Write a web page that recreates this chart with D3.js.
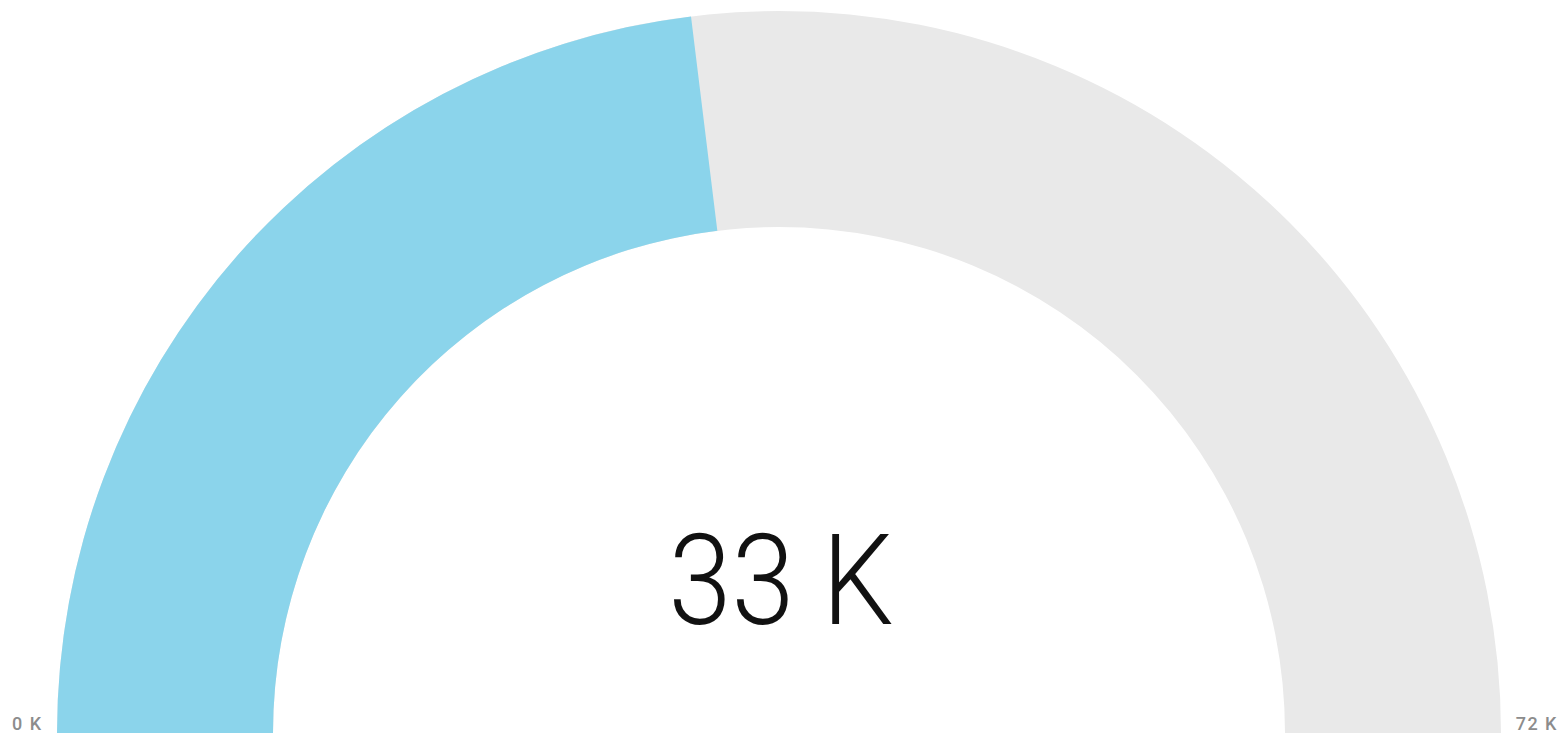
<!DOCTYPE html>
<html>
<head>
<meta charset="utf-8">
<script src="https://cdn.jsdelivr.net/npm/d3@7"></script>
<style>
html,body{margin:0;padding:0;background:#fff;overflow:hidden;}
svg{display:block;}
</style>
</head>
<body>
<svg id="chart" width="1560" height="734"></svg>
<script>
const minValue = 0;
const maxValue = 72;      // thousands
const currentValue = 33.2; // thousands
const valueLabel = "33 K";
const minLabel = "0 K";
const maxLabel = "72 K";

const svg = d3.select("#chart");
const cx = 779, cy = 733;
const outerR = 722, innerR = 506;

const angle = d3.scaleLinear().domain([minValue, maxValue]).range([-Math.PI/2, Math.PI/2]);
const arc = d3.arc().innerRadius(innerR).outerRadius(outerR);

const g = svg.append("g").attr("transform", `translate(${cx},${cy})`);
g.append("path")
  .attr("d", arc({startAngle: angle(minValue), endAngle: angle(maxValue)}))
  .attr("fill", "#e9e9e9");
g.append("path")
  .attr("d", arc({startAngle: angle(minValue), endAngle: angle(currentValue)}))
  .attr("fill", "#8bd4eb");

svg.append("g")
  .attr("transform", "translate(781,624) scale(0.9,1)")
  .append("text")
  .attr("x", 0).attr("y", 0)
  .attr("text-anchor", "middle")
  .attr("font-family", "Roboto, sans-serif")
  .attr("font-weight", 300)
  .attr("font-size", 126)
  .attr("fill", "#111")
  .text(valueLabel);

svg.append("text")
  .attr("x", 12).attr("y", 730)
  .attr("font-family", "Roboto, sans-serif")
  .attr("font-weight", 500)
  .attr("font-size", 18)
  .attr("letter-spacing", "1.5px")
  .attr("fill", "#8c8c8c")
  .text(minLabel);

svg.append("text")
  .attr("x", 1558).attr("y", 730)
  .attr("text-anchor", "end")
  .attr("font-family", "Roboto, sans-serif")
  .attr("font-weight", 500)
  .attr("font-size", 18)
  .attr("letter-spacing", "1.5px")
  .attr("fill", "#8c8c8c")
  .text(maxLabel);
</script>
</body>
</html>
